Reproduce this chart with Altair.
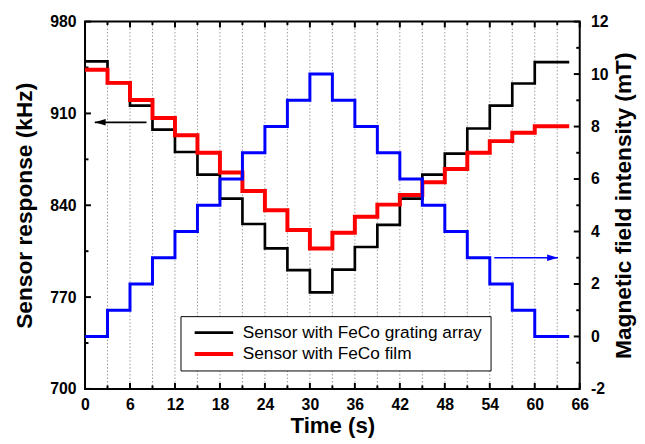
import altair as alt
import pandas as pd

# ---- data ----
times = [0, 3, 6, 9, 12, 15, 18, 21, 24, 27, 30, 33, 36, 39, 42, 45, 48, 51, 54, 57, 60]
t_end = 64.6
grating = [949.7, 933.3, 916.0, 897.7, 880.6, 863.3, 845.0, 825.7, 807.1, 790.6, 773.6,
           791.0, 808.2, 825.0, 845.0, 863.3, 879.4, 898.5, 916.0, 932.8, 949.1]
film = [943.3, 933.3, 920.3, 906.5, 893.4, 880.0, 865.0, 850.9, 836.2, 821.2, 807.1,
        819.1, 831.2, 840.5, 847.8, 857.5, 867.6, 880.1, 888.9, 895.2, 900.2]
field = [0, 1, 2, 3, 4, 5, 6, 7, 8, 9, 10, 9, 8, 7, 6, 5, 4, 3, 2, 1, 0]
series_names = ["Sensor with FeCo grating array", "Sensor with FeCo film"]

x_major = [0, 6, 12, 18, 24, 30, 36, 42, 48, 54, 60, 66]
x_minor = [3, 9, 15, 21, 27, 33, 39, 45, 51, 57, 63]
grid_x = [3, 6, 9, 12, 15, 18, 21, 24, 27, 30, 33, 36, 39, 42, 45, 48, 51, 54, 57, 60, 63]
yl_major = [700, 770, 840, 910, 980]
yl_minor = [735, 805, 875, 945]
yr_major = [-2, 0, 2, 4, 6, 8, 10, 12]
yr_minor = [-1, 1, 3, 5, 7, 9, 11]

arrow_left_tip, arrow_left_tail, arrow_left_y = 1.3, 8.2, 903.2
arrow_right_tip, arrow_right_tail, arrow_right_y = 63.1, 54.6, 3.0

# ---- tables ----
rows = []
for name, vals in zip(series_names, [grating, film]):
    for t, v in zip(times + [t_end], vals + [vals[-1]]):
        rows.append({"t": t, "v": v, "series": name})
sens = pd.DataFrame(rows)
mag = pd.DataFrame({"t": times + [t_end], "v": field + [field[-1]]})
grid_df = pd.DataFrame({"x": grid_x})
xmaj_df = pd.DataFrame({"x": x_major})
xmin_df = pd.DataFrame({"x": x_minor})
ylmaj_df = pd.DataFrame({"y": yl_major})
ylmin_df = pd.DataFrame({"y": yl_minor})
yrmaj_df = pd.DataFrame({"y": yr_major})
yrmin_df = pd.DataFrame({"y": yr_minor})
arrL = pd.DataFrame({"tip": [arrow_left_tip], "tail": [arrow_left_tail], "y": [arrow_left_y]})
arrR = pd.DataFrame({"tip": [arrow_right_tip], "tail": [arrow_right_tail], "y": [arrow_right_y]})

W, H = 501, 372
FONT = "Liberation Sans"

xscale = alt.Scale(domain=[0, 66], nice=False, zero=False)
ylscale = alt.Scale(domain=[700, 980], nice=False, zero=False)
yrscale = alt.Scale(domain=[-2, 12], nice=False, zero=False)

common = dict(ticks=False, domain=False, grid=False, labelFlush=False, labelFont=FONT,
              labelFontSize=16, labelFontWeight="bold", labelColor="black",
              labelExpr="datum.value + ''", titleFont=FONT,
              titleFontWeight="bold", titleColor="black", titleBaseline="alphabetic",
              labelOverlap=False)

xaxis = alt.Axis(values=x_major, title="Time (s)", labelPadding=8, titleY=44, titleFontSize=22.5, **common)
ylaxis = alt.Axis(values=yl_major, orient="left", title="Sensor response (kHz)", labelPadding=9,
                  titleAngle=270, titleX=-54.3, titleY=H / 2, titleFontSize=23, **common)
yraxis = alt.Axis(values=yr_major, orient="right", title="Magnetic field intensity (mT)",
                  labelPadding=11, titleAngle=270, titleX=51, titleY=H / 2, titleFontSize=23, **common)


def X(f):
    return alt.X(f"{f}:Q", scale=xscale, axis=xaxis)


def YL(f):
    return alt.Y(f"{f}:Q", scale=ylscale, axis=ylaxis)


def YR(f):
    return alt.Y(f"{f}:Q", scale=yrscale, axis=yraxis)


leg = alt.Legend(title=None, orient="none", legendX=96.7, legendY=298.3,
                 symbolType="M-1,0H9", symbolSize=60.84, symbolOffset=1.5,
                 labelFont=FONT, labelFontSize=17.5, labelColor="black", labelLimit=500,
                 strokeColor="black", fillColor="white", padding=8, labelOffset=36,
                 rowPadding=2.5)
color = alt.Color("series:N", scale=alt.Scale(domain=series_names, range=["black", "red"]), legend=leg)
swidth = alt.StrokeWidth("series:N", scale=alt.Scale(domain=series_names, range=[2.7, 4]), legend=leg)

grid = alt.Chart(grid_df).mark_rule(color="#999999", strokeDash=[1.5, 2], strokeWidth=1).encode(
    x=X("x"), y=alt.value(0), y2=alt.value(H))
tk = dict(color="black", strokeWidth=2)
xt1 = alt.Chart(xmaj_df).mark_rule(**tk).encode(x=X("x"), y=alt.value(H), y2=alt.value(H - 6))
xt2 = alt.Chart(xmaj_df).mark_rule(**tk).encode(x=X("x"), y=alt.value(0), y2=alt.value(6))
xt3 = alt.Chart(xmin_df).mark_rule(**tk).encode(x=X("x"), y=alt.value(H), y2=alt.value(H - 3.5))
xt4 = alt.Chart(xmin_df).mark_rule(**tk).encode(x=X("x"), y=alt.value(0), y2=alt.value(3.5))
yl1 = alt.Chart(ylmaj_df).mark_rule(**tk).encode(y=YL("y"), x=alt.value(0), x2=alt.value(6))
yl2 = alt.Chart(ylmin_df).mark_rule(**tk).encode(y=YL("y"), x=alt.value(0), x2=alt.value(3.5))

line_black = alt.Chart(sens).transform_filter(alt.datum.series == series_names[0]).mark_line(
    interpolate="step-after", strokeJoin="miter").encode(x=X("t"), y=YL("v"), color=color, strokeWidth=swidth)
line_red = alt.Chart(sens).transform_filter(alt.datum.series == series_names[1]).mark_line(
    interpolate="step-after", strokeJoin="miter").encode(x=X("t"), y=YL("v"), color=color, strokeWidth=swidth)

arrL_line = alt.Chart(arrL).mark_rule(color="black", strokeWidth=1.8).encode(x=X("tip"), x2="tail", y=YL("y"))
arrL_head = alt.Chart(arrL).mark_point(shape="M0,0L2,-0.6L2,0.6Z", filled=True, color="black", size=121,
                                       opacity=1, strokeWidth=0).encode(x=X("tip"), y=YL("y"))

left = alt.layer(grid, xt1, xt2, xt3, xt4, yl1, yl2, line_black, line_red, arrL_line, arrL_head)

line_blue = alt.Chart(mag).mark_line(interpolate="step-after", strokeJoin="miter", color="blue",
                                     strokeWidth=3).encode(x=X("t"), y=YR("v"))
yr1 = alt.Chart(yrmaj_df).mark_rule(**tk).encode(y=YR("y"), x=alt.value(W), x2=alt.value(W - 6))
yr2 = alt.Chart(yrmin_df).mark_rule(**tk).encode(y=YR("y"), x=alt.value(W), x2=alt.value(W - 3.5))
arrR_line = alt.Chart(arrR).mark_rule(color="blue", strokeWidth=1.5).encode(x=X("tip"), x2="tail", y=YR("y"))
arrR_head = alt.Chart(arrR).mark_point(shape="M0,0L-2,-0.6L-2,0.6Z", filled=True, color="blue", size=121,
                                       opacity=1, strokeWidth=0).encode(x=X("tip"), y=YR("y"))

right = alt.layer(line_blue, yr1, yr2, arrR_line, arrR_head)

chart = alt.layer(left, right).resolve_scale(y="independent").properties(
    width=W, height=H,
    padding={"left": 78, "top": 11, "right": 58, "bottom": 53},
    autosize=alt.AutoSizeParams(type="none"),
    background="white",
).configure_view(stroke="black", strokeWidth=2)

chart.save("out.html", embed_options={"renderer": "svg", "actions": False})
